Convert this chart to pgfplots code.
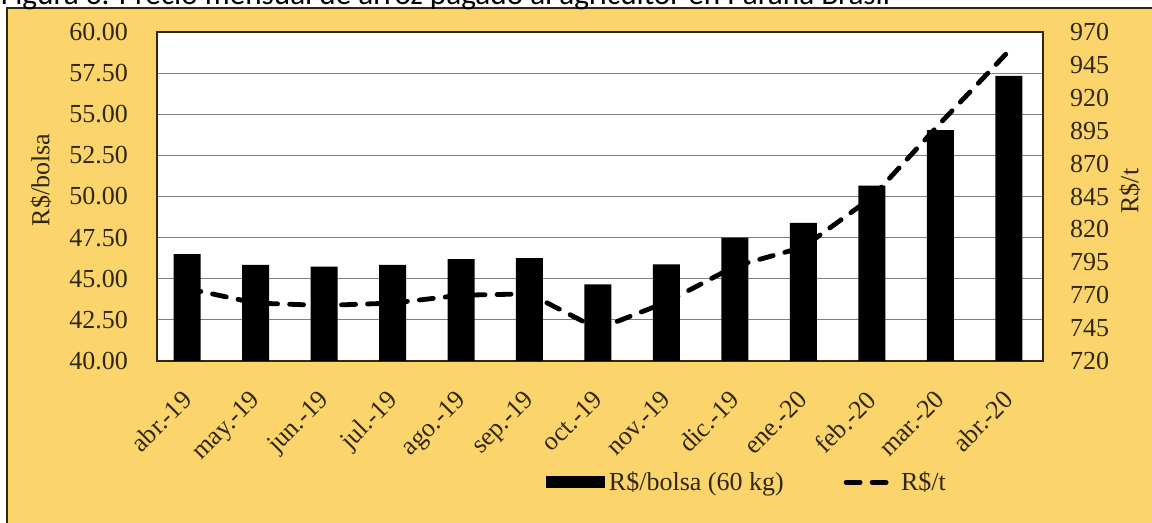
\documentclass[border=0pt]{standalone}
\usepackage{pgfplots}
\pgfplotsset{compat=1.18}
\usepackage{fontspec}
\setmainfont{Liberation Serif}
\newfontfamily\titlefont{Carlito}
\definecolor{bg}{HTML}{FBD46B}
\definecolor{txt}{HTML}{30270F}
\definecolor{gridc}{HTML}{7F7F7F}
\begin{document}
\begin{tikzpicture}[x=1pt,y=1pt]
\useasboundingbox (0,0) rectangle (576,261.5);
\fill[bg] (3.5,-5) rectangle (580,257.5);
\draw[txt, line width=1.2pt] (3.5,-5) -- (3.5,257.5) -- (580,257.5);
\node[anchor=base west, inner sep=0, font=\titlefont\fontsize{15.6}{18}\selectfont] at (0.3,259.2) {Figura 3. Precio mensual de arroz pagado al agricultor en Paraná Brasil};
\node[rotate=90, text=txt, font=\rmfamily\fontsize{13}{15}\selectfont] at (20.5,171.5) {R\$/bolsa};
\node[rotate=90, text=txt, font=\rmfamily\fontsize{13}{15}\selectfont] at (565,166) {R\$/t};
\begin{axis}[
  at={(78.5pt,81pt)}, anchor=south west, scale only axis, width=443pt, height=164.5pt,
  xmin=-0.44, xmax=12.5, ymin=40, ymax=60,
  ytick={40,42.5,45,47.5,50,52.5,55,57.5,60},
  xtick={0,1,2,3,4,5,6,7,8,9,10,11,12},
  xticklabels={abr.-19,may.-19,jun.-19,jul.-19,ago.-19,sep.-19,oct.-19,nov.-19,dic.-19,ene.-20,feb.-20,mar.-20,abr.-20},
  ymajorgrids, grid style={gridc, line width=0.6pt},
  axis background/.style={fill=white},
  axis line style={txt, line width=0.9pt},
  major tick length=0pt,
  /pgf/number format/assume math mode=true,
  tick label style={font=\rmfamily\fontsize{13}{15}\selectfont, text=txt},
  yticklabel style={/pgf/number format/fixed, /pgf/number format/fixed zerofill, /pgf/number format/precision=2, xshift=-11pt},
  xticklabel style={xshift=-3.3pt, yshift=-9pt, rotate=45, anchor=north east},
]
\addplot[ybar, bar width=13.5pt, fill=black, draw=none] coordinates {
(0,46.5) (1,45.84) (2,45.73) (3,45.84) (4,46.2) (5,46.26) (6,44.66) (7,45.88) (8,47.5) (9,48.39) (10,50.66) (11,54.04) (12,57.33)};
\end{axis}
\begin{axis}[
  at={(78.5pt,81pt)}, anchor=south west, scale only axis, width=443pt, height=164.5pt,
  xmin=-0.44, xmax=12.5, ymin=720, ymax=970,
  ytick={720,745,770,795,820,845,870,895,920,945,970},
  axis y line*=right, axis x line=none,
  axis line style={txt, line width=0.9pt},
  major tick length=0pt,
  /pgf/number format/assume math mode=true,
  tick label style={font=\rmfamily\fontsize{13}{15}\selectfont, text=txt},
  yticklabel style={anchor=west, xshift=10pt},
  legend style={at={(0.432,-0.369)}, anchor=west, draw=none, fill=none, text=txt,
    font=\rmfamily\fontsize{13}{15}\selectfont, legend columns=2,
    /tikz/every even column/.append style={column sep=28pt}},
]
\addlegendimage{legend image code/.code={\fill[black] (0pt,-2.75pt) rectangle (29pt,2.75pt);}}
\addlegendentry{R\$/bolsa (60 kg)}
\addplot[black, line width=2.4pt, dash pattern=on 7pt off 6pt, line cap=round,
  legend image code/.code={\draw[black, line width=2.4pt, dash pattern=on 7pt off 6pt, line cap=round] (1.2pt,0pt) -- (25.5pt,0pt);}] coordinates {
(0,775) (1,764) (2,762.2) (3,764) (4,770) (5,771) (6,744.3) (7,764.7) (8,792) (9,806.5) (10,844.3) (11,900.7) (12,955.5)};
\addlegendentry{R\$/t}
\end{axis}
\end{tikzpicture}
\end{document}
